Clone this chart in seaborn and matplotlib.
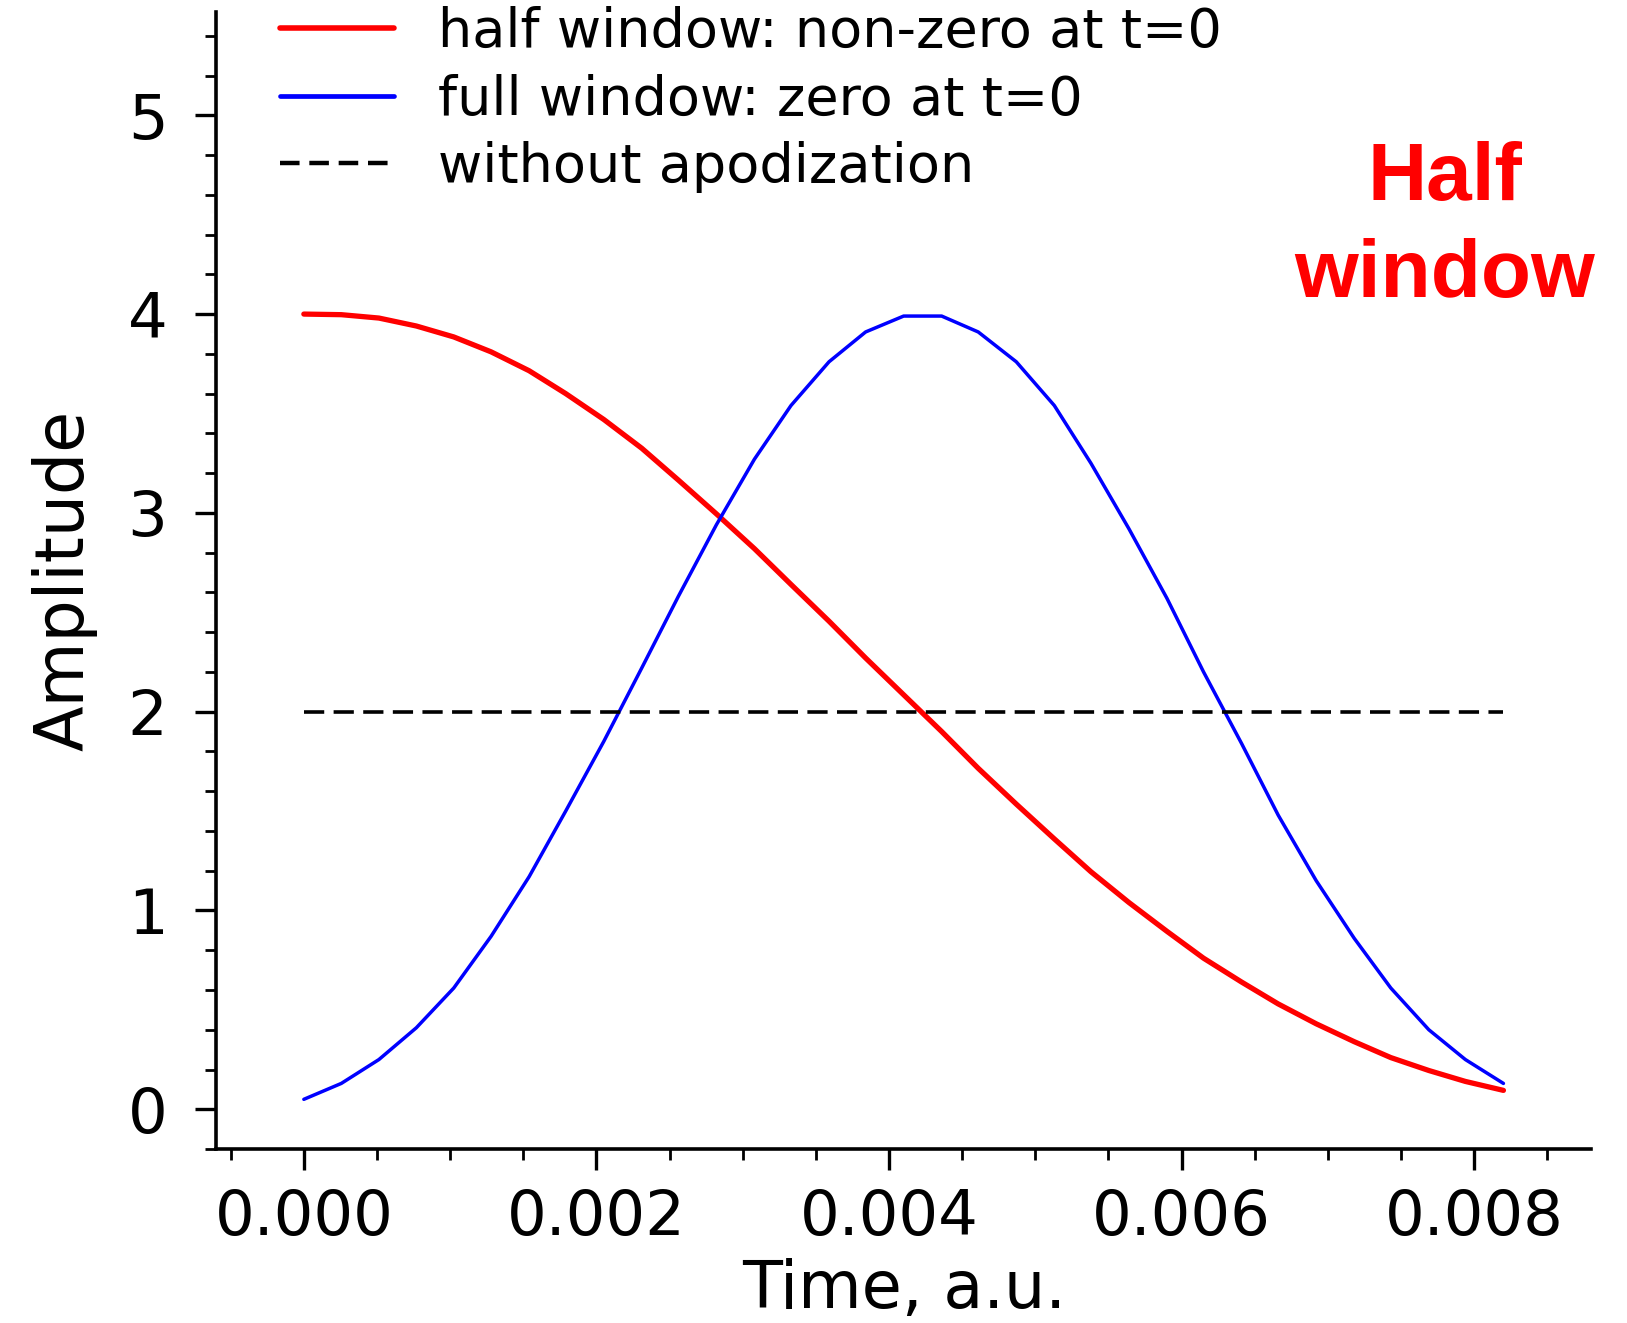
import numpy as np
import pandas as pd
import matplotlib
matplotlib.use("Agg")
import matplotlib.pyplot as plt
from matplotlib.ticker import MultipleLocator
import seaborn as sns

# ---- data ----
time_au = [0.0, 0.000256, 0.000513, 0.000769, 0.001025, 0.00128, 0.00154, 0.00179,
           0.00205, 0.00231, 0.00256, 0.00282, 0.00308, 0.00333, 0.00359, 0.00384,
           0.0041, 0.00436, 0.00461, 0.00487, 0.00513, 0.00538, 0.00564, 0.0059,
           0.00615, 0.00641, 0.00666, 0.00692, 0.00718, 0.00743, 0.00769, 0.00794, 0.0082]
half_window = [4.00, 3.997, 3.98, 3.94, 3.885, 3.81, 3.715, 3.60,
               3.47, 3.325, 3.165, 2.995, 2.82, 2.64, 2.455, 2.27,
               2.085, 1.90, 1.715, 1.535, 1.36, 1.195, 1.04, 0.895,
               0.76, 0.64, 0.53, 0.43, 0.34, 0.26, 0.195, 0.14, 0.095]
full_window = [0.05, 0.13, 0.25, 0.41, 0.61, 0.87, 1.17, 1.50,
               1.85, 2.22, 2.58, 2.94, 3.27, 3.54, 3.76, 3.91,
               3.99, 3.99, 3.91, 3.76, 3.54, 3.25, 2.92, 2.57,
               2.20, 1.84, 1.48, 1.15, 0.86, 0.61, 0.40, 0.25, 0.13]
flat_time = [0.0, 0.0082]
no_apodization = [2.0, 2.0]

labels = ["half window: non-zero at t=0", "full window: zero at t=0", "without apodization"]
x_label = "Time, a.u."
y_label = "Amplitude"

sns.set_style("ticks")
plt.rcParams['font.family'] = ['DejaVu Sans']
for k in ["text.color", "axes.labelcolor", "xtick.color", "ytick.color",
          "xtick.labelcolor", "ytick.labelcolor", "axes.edgecolor"]:
    plt.rcParams[k] = "black"

fig = plt.figure(figsize=(16.27, 13.23), dpi=100)
ax = fig.add_axes([0.1328, 0.1315, 0.978 - 0.1328, 0.991 - 0.1315])

sns.lineplot(x=time_au, y=half_window, ax=ax, color="#ff0000", linewidth=3.8,
             label=labels[0], sort=False)
sns.lineplot(x=time_au, y=full_window, ax=ax, color="#0000ff", linewidth=2.5,
             label=labels[1], sort=False)
sns.lineplot(x=flat_time, y=no_apodization, ax=ax, color="black", linewidth=2.6,
             label=labels[2], sort=False)
ax.lines[-1].set_linestyle((0, (5.6, 2.6)))

ax.set_xlim(-0.0006, 0.0088)
ax.set_ylim(-0.2, 5.52)

ax.xaxis.set_major_locator(MultipleLocator(0.002))
ax.xaxis.set_minor_locator(MultipleLocator(0.0005))
ax.yaxis.set_major_locator(MultipleLocator(1))
ax.yaxis.set_minor_locator(MultipleLocator(0.2))
ax.set_xticks([0.0, 0.002, 0.004, 0.006, 0.008])
ax.set_xticklabels(["0.000", "0.002", "0.004", "0.006", "0.008"])

sns.despine(ax=ax)
for s in ["left", "bottom"]:
    ax.spines[s].set_linewidth(2.6)
    ax.spines[s].set_color("black")

ax.tick_params(which="major", direction="out", length=15, width=2.4, color="black",
               labelsize=45, labelcolor="black")
ax.tick_params(which="minor", direction="out", length=8, width=2.0, color="black")
ax.tick_params(axis="y", which="major", pad=20)
ax.tick_params(axis="x", which="major", pad=13)

ax.set_xlabel(x_label, fontsize=47, labelpad=7, color="black")
ax.set_ylabel(y_label, fontsize=48, labelpad=22, color="black")

leg = ax.legend(loc="upper left", bbox_to_anchor=(0.172, 0.9955),
                bbox_transform=fig.transFigure, frameon=False, fontsize=39,
                handlelength=2.1, handletextpad=0.82, labelspacing=0.29,
                borderpad=0, borderaxespad=0)
for t in leg.get_texts():
    t.set_color("black")
lines = leg.get_lines()
lines[0].set_linewidth(4.0)
lines[1].set_linewidth(3.4)
lines[2].set_linewidth(3.2)
lines[2].set_linestyle((0, (4.4, 2.2)))

fig.text(0.888, 1 - 200 / 1323, "Half", color="#ff0000", fontsize=59,
         fontweight="bold", family=["Liberation Sans", "DejaVu Sans"],
         ha="center", va="baseline")
fig.text(0.888, 1 - 297 / 1323, "window", color="#ff0000", fontsize=59,
         fontweight="bold", family=["Liberation Sans", "DejaVu Sans"],
         ha="center", va="baseline")

fig.savefig("out.png", dpi=100, facecolor="white")
